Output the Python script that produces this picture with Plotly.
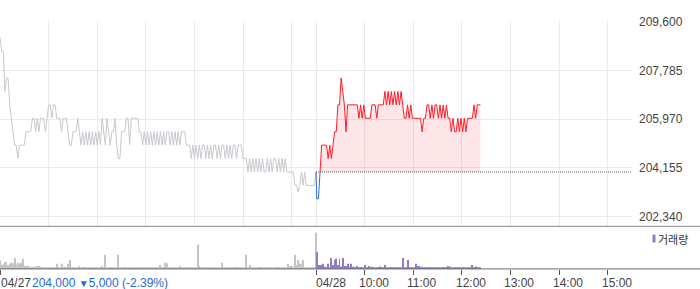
import plotly.graph_objects as go

# ---------------- data ----------------
PREV_CLOSE = 204000
PRICE_TICKS = [202340, 204155, 205970, 207785, 209600]
DAY1_LABEL = "04/27"
DAY2_LABEL = "04/28"
SUMMARY_PRICE = "204,000"
SUMMARY_CHANGE = "5,000 (-2.39%)"
LEGEND_LABEL = "거래량"
# compressed intraday axis in minutes: 04/27 09:00 = 0, 04/28 09:00 = 390, 04/28 15:30 = 780
DAY1_HOUR_TICKS = [60, 120, 180, 240, 300, 360]
TIME_TICKS = [450, 510, 570, 630, 690, 750]
TIME_LABELS = ["10:00", "11:00", "12:00", "13:00", "14:00", "15:00"]
DAY2_START = 390
SESSION_END = 780

day1_price = [
    209000, 208500, 208500, 207000, 207500, 207500, 206500, 206000, 205500, 205000,
    205000, 204500, 205000, 205000, 205000, 205000, 205500, 205500, 205500, 205500,
    206000, 206000, 205500, 206000, 205500, 206000, 206000, 206000, 205500, 206000,
    206500, 206500, 206000, 206500, 206500, 206000, 206000, 206000, 205500, 206000,
    206000, 206000, 205500, 205000, 205000, 205500, 205500, 205500, 206000, 205500,
    205000, 205500, 205000, 205500, 205000, 205500, 205000, 205500, 205000, 205500,
    205000, 205500, 205000, 206000, 205500, 205000, 206000, 205500, 205000, 205500,
    205500, 206000, 205000, 204500, 204500, 205500, 205500, 205500, 206000, 206000,
    205000, 206000, 206000, 206000, 206000, 206000, 205500, 205500, 205000, 205500,
    205000, 205500, 205000, 205500, 205000, 205500, 205000, 205500, 205000, 205500,
    205000, 205500, 205000, 205500, 205500, 205000, 205500, 205000, 205500, 205000,
    205500, 205000, 205500, 205500, 205500, 205000, 205000, 205000, 204500, 205000,
    204500, 205000, 204500, 205000, 204500, 205000, 205000, 204500, 205000, 204500,
    205000, 204500, 205000, 205000, 204500, 205000, 204500, 205000, 205000, 204500,
    205000, 204500, 205000, 204500, 205000, 205000, 204500, 205000, 205000, 205000,
    204500, 204500, 204500, 204000, 204500, 204000, 204500, 204000, 204500, 204000,
    204500, 204000, 204500, 204000, 204000, 204500, 204000, 204500, 204000, 204500,
    204500, 204000, 204500, 204000, 204500, 204000, 204500, 204000, 204000, 204000,
    204000, 204000, 203500, 203500, 203250, 203500, 204000, 203500, 204000, 203500,
    203500, 203500, 203500, 203500, 203500, 204000,
]
day1_volume = [
    24, 11, 12, 19, 19, 10, 14, 17, 16, 30, 12, 17, 15, 17, 28, 9, 8, 9, 5, 4,
    5, 6, 4, 8, 8, 7, 4, 3, 4, 4, 3, 4, 3, 4, 3, 14, 5, 3, 14, 4,
    6, 4, 14, 25, 4, 3, 4, 3, 4, 8, 3, 4, 6, 3, 4, 3, 3, 4, 3, 4,
    3, 4, 3, 8, 4, 39, 4, 3, 4, 3, 4, 3, 4, 39, 4, 3, 4, 6, 3, 4,
    3, 4, 3, 3, 4, 3, 4, 3, 4, 3, 5, 3, 4, 3, 3, 4, 3, 4, 3, 11,
    3, 4, 17, 16, 3, 4, 3, 4, 3, 4, 3, 8, 3, 4, 3, 5, 4, 3, 4, 3,
    4, 3, 67, 8, 3, 4, 3, 4, 3, 4, 3, 4, 3, 4, 3, 4, 3, 17, 4, 3,
    4, 3, 4, 3, 4, 6, 3, 4, 3, 4, 3, 4, 39, 3, 11, 4, 3, 4, 3, 4,
    3, 6, 3, 4, 3, 4, 3, 4, 3, 4, 3, 6, 3, 4, 3, 4, 3, 4, 14, 8,
    8, 3, 39, 11, 25, 14, 14, 25, 3, 2, 2, 2, 2, 2, 2, 100,
]
day2_price = [
    203000, 203000, 204000, 205000, 205000, 205000, 205000, 204500, 205000, 204500,
    205000, 205500, 205500, 206500, 206500, 207500, 207000, 206500, 205500, 206500,
    206500, 206500, 206500, 206500, 206500, 206500, 206000, 206500, 206000, 206500,
    206000, 206000, 206000, 206000, 206500, 206500, 206500, 206000, 206500, 206500,
    206500, 206500, 207000, 206500, 207000, 206500, 207000, 206500, 207000, 206500,
    207000, 206500, 207000, 206500, 206000, 206000, 206500, 206000, 206500, 206000,
    206000, 206000, 206000, 206000, 206000, 205500, 206000, 206000, 206500, 206500,
    206000, 206500, 206000, 206500, 206500, 206000, 206500, 206000, 206500, 206000,
    206500, 206000, 206000, 205500, 206000, 205500, 205500, 206000, 205500, 206000,
    205500, 206000, 205500, 206000, 206000, 206000, 206000, 206500, 206000, 206500,
    206500, 206500,
]
day2_volume = [
    47, 11, 11, 11, 14, 6, 4, 14, 4, 30, 11, 25, 28, 11, 28, 6, 30, 8, 8, 14,
    6, 14, 5, 6, 4, 8, 4, 5, 4, 4, 11, 4, 8, 4, 6, 3, 4, 3, 4, 7,
    3, 4, 11, 3, 4, 3, 4, 3, 4, 3, 4, 3, 4, 30, 4, 3, 25, 3, 4, 3,
    4, 14, 8, 8, 4, 6, 3, 4, 3, 4, 3, 4, 3, 4, 3, 4, 3, 4, 3, 3,
    4, 8, 6, 3, 4, 3, 4, 3, 4, 3, 4, 3, 4, 3, 4, 3, 11, 3, 7, 3,
    3, 3,
]

day1_t = list(range(0, 2 * len(day1_price), 2))
day2_t = [DAY2_START + 1 + 2 * i for i in range(len(day2_price))]

# ---------------- styling / layout ----------------
W, H = 700, 289
PLOT_RIGHT = 632
PRICE_TOP, PRICE_BOTTOM = 15.7, 225
VOL_BOTTOM = 268.5
px_per_price = (215 - 16) / (PRICE_TICKS[-1] - PRICE_TICKS[0])
y_lo = PRICE_TICKS[0] - 10 / px_per_price
y_hi = PRICE_TICKS[-1] + 0.3 / px_per_price

GRAY_LINE = "rgb(200,200,206)"
RED = "rgb(255,28,40)"
BLUE = "rgb(45,110,215)"
PURPLE = "rgb(146,124,200)"
GRID = "#ebebeb"
FONT = "Liberation Sans, Arial, sans-serif"
TXT = "#444444"

def py(p):
    return (H - p) / H

fig = go.Figure()

fig.add_trace(go.Scatter(x=day1_t, y=day1_price, mode="lines",
                         line=dict(color=GRAY_LINE, width=1), xaxis="x", yaxis="y",
                         hoverinfo="skip", showlegend=False))
red_t = day2_t[2:]
red_p = day2_price[2:]
fig.add_trace(go.Scatter(x=red_t, y=[PREV_CLOSE] * len(red_t), mode="lines",
                         line=dict(width=0, color="rgba(0,0,0,0)"), xaxis="x", yaxis="y",
                         hoverinfo="skip", showlegend=False))
fig.add_trace(go.Scatter(x=red_t, y=red_p, mode="lines", fill="tonexty",
                         fillcolor="rgba(250,60,80,0.13)",
                         line=dict(color=RED, width=1), xaxis="x", yaxis="y",
                         hoverinfo="skip", showlegend=False))
fig.add_trace(go.Scatter(x=[day1_t[-1]] + day2_t[:3], y=[day1_price[-1]] + day2_price[:3],
                         mode="lines", line=dict(color=BLUE, width=1), xaxis="x", yaxis="y",
                         hoverinfo="skip", showlegend=False))

fig.add_trace(go.Bar(x=day1_t, y=day1_volume, width=1.15, marker=dict(color="rgb(196,196,200)", line=dict(width=0)),
                     xaxis="x2", yaxis="y2", hoverinfo="skip", showlegend=False))
fig.add_trace(go.Bar(x=day2_t, y=day2_volume, width=1.15, marker=dict(color=PURPLE, line=dict(width=0)),
                     xaxis="x2", yaxis="y2", hoverinfo="skip", showlegend=False))

xdom = [0, PLOT_RIGHT / W]
fig.update_layout(
    width=W, height=H, margin=dict(l=0, r=0, t=0, b=0),
    paper_bgcolor="white", plot_bgcolor="white",
    font=dict(family=FONT, size=12, color=TXT),
    barmode="overlay",
    xaxis=dict(domain=xdom, range=[0, SESSION_END], anchor="y",
               tickvals=DAY1_HOUR_TICKS + [DAY2_START] + TIME_TICKS,
               showticklabels=False, ticks="", showgrid=True, gridcolor=GRID, gridwidth=1,
               zeroline=False, showline=False),
    yaxis=dict(domain=[py(PRICE_BOTTOM), py(PRICE_TOP)], range=[y_lo, y_hi], anchor="x",
               side="right", tickvals=PRICE_TICKS, ticktext=[f"{v:,}" for v in PRICE_TICKS],
               showgrid=True, gridcolor=GRID, gridwidth=1, zeroline=False, showline=False,
               ticks="", ticklabelstandoff=6, tickfont=dict(size=12, color=TXT)),
    xaxis2=dict(domain=xdom, range=[0, SESSION_END], anchor="y2",
                tickvals=[0, DAY2_START] + TIME_TICKS, ticks="outside", ticklen=5,
                tickcolor="#555", tickwidth=1, showticklabels=False,
                showgrid=False, zeroline=False, showline=False),
    yaxis2=dict(domain=[py(VOL_BOTTOM), py(PRICE_BOTTOM)], range=[0, 118], anchor="x2",
                showgrid=False, showticklabels=False, ticks="", zeroline=False, showline=False),
)

# previous close dotted line
fig.add_shape(type="line", xref="x", yref="y", x0=DAY2_START, x1=SESSION_END,
              y0=PREV_CLOSE, y1=PREV_CLOSE, line=dict(color="#555", width=1, dash="1px,1px"))
# panel separators
fig.add_shape(type="line", xref="paper", yref="paper", x0=0, x1=1,
              y0=py(PRICE_BOTTOM), y1=py(PRICE_BOTTOM), line=dict(color="#8a8a8a", width=1))
fig.add_shape(type="line", xref="paper", yref="paper", x0=0, x1=1,
              y0=py(VOL_BOTTOM), y1=py(VOL_BOTTOM), line=dict(color="#6a6a6a", width=1))
# legend swatch
fig.add_shape(type="rect", xref="paper", yref="paper", x0=652.5 / W, x1=655.5 / W,
              y0=py(241.5), y1=py(233.5), fillcolor=PURPLE, line=dict(width=0))

label_y = py(283)
anns = [
    dict(x=0, xref="paper", y=label_y, yref="paper", text=DAY1_LABEL, xanchor="left",
         yanchor="middle", showarrow=False, font=dict(size=12, color=TXT), xshift=-1),
    dict(x=33 / W, xref="paper", y=label_y, yref="paper",
         text=f"{SUMMARY_PRICE} <span style='font-size:10px'>▼</span>{SUMMARY_CHANGE}",
         xanchor="left", yanchor="middle", showarrow=False,
         font=dict(size=12, color="rgb(40,105,210)"), xshift=-3),
    dict(x=DAY2_START, xref="x2", y=label_y, yref="paper", text=DAY2_LABEL, xanchor="left",
         yanchor="middle", showarrow=False, font=dict(size=12, color=TXT), xshift=-2),
    dict(x=658 / W, xref="paper", y=py(237.5), yref="paper", text=LEGEND_LABEL,
         xanchor="left", yanchor="middle", showarrow=False,
         font=dict(family="Noto Sans CJK KR", size=11, color="#333"), xshift=-2),
]
for t, lab in zip(TIME_TICKS, TIME_LABELS):
    anns.append(dict(x=t, xref="x2", y=label_y, yref="paper", text=lab, xanchor="left",
                     yanchor="middle", showarrow=False, font=dict(size=12, color=TXT), xshift=-8))
fig.update_layout(annotations=anns)

fig.write_html("out.html")
